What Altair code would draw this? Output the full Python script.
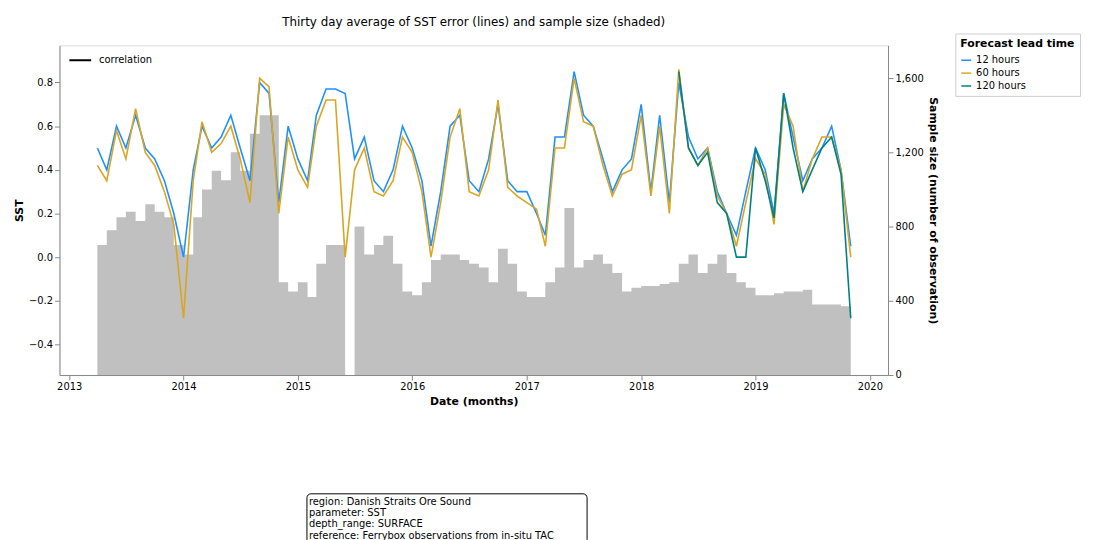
import altair as alt
import pandas as pd

months = pd.date_range("2013-04-01", "2019-11-01", freq="MS")
sst_12h = [0.5,0.4,0.6,0.5,0.65,0.5,0.45,0.35,0.2,
           0.0,0.4,0.6,0.5,0.55,0.65,0.5,0.35,0.8,0.75,0.25,0.6,
           0.45,0.35,0.65,0.77,0.77,0.75,0.45,0.55,0.35,0.3,0.4,0.6,
           0.5,0.35,0.05,0.3,0.6,0.65,0.35,0.3,0.45,0.7,0.35,0.3,
           0.3,0.2,0.1,0.55,0.55,0.85,0.65,0.6,0.45,0.3,0.4,0.45,
           0.7,0.3,0.65,0.25,0.8,0.55,0.45,0.5,0.3,0.2,0.1,0.3,
           0.5,0.4,0.2,0.75,0.55,0.35,0.45,0.5,0.6,0.4,0.05]
sst_60h = [0.42,0.35,0.58,0.45,0.68,0.48,0.42,0.3,0.15,
           -0.28,0.35,0.62,0.48,0.52,0.6,0.45,0.25,0.82,0.78,0.2,0.55,
           0.4,0.32,0.6,0.72,0.72,0.0,0.4,0.5,0.3,0.28,0.35,0.55,
           0.48,0.3,0.0,0.25,0.55,0.68,0.3,0.28,0.4,0.72,0.32,0.28,
           0.25,0.22,0.05,0.5,0.5,0.82,0.62,0.6,0.42,0.28,0.38,0.4,
           0.65,0.28,0.6,0.2,0.86,0.5,0.42,0.5,0.28,0.2,0.05,0.25,
           0.45,0.38,0.15,0.7,0.6,0.3,0.45,0.55,0.55,0.4,0.0]
months_120 = pd.date_range("2018-05-01", "2019-11-01", freq="MS")
sst_120h = [0.85,0.5,0.42,0.48,0.25,0.2,0.0,0.0,0.5,0.35,0.18,0.75,0.5,0.3,0.4,0.5,0.55,0.38,-0.28]
sample = [700,780,850,880,830,920,880,850,700,
          650,850,1000,1100,1050,1200,1100,1300,1400,1400,500,450,
          500,420,600,700,700,0,800,650,700,750,600,450,
          430,500,620,650,650,620,600,580,500,680,600,450,
          420,420,500,580,900,580,620,650,600,550,450,470,
          480,480,490,500,600,650,550,600,650,550,500,470,
          430,430,440,450,450,460,380,380,380,370,330]

rows = []
for d, v in zip(months, sst_12h):
    rows.append({"date": d, "value": v, "lead": "12 hours"})
for d, v in zip(months, sst_60h):
    rows.append({"date": d, "value": v, "lead": "60 hours"})
for d, v in zip(months_120, sst_120h):
    rows.append({"date": d, "value": v, "lead": "120 hours"})
lines_df = pd.DataFrame(rows)
n = min(len(months), len(sample))
bars_df = pd.DataFrame({"date": months[:n], "n": sample[:n]})

xscale = alt.Scale(domain=[pd.Timestamp("2012-12-01").isoformat(), pd.Timestamp("2020-02-28").isoformat()])
xenc = alt.X("date:T", scale=xscale, title="Date (months)",
             axis=alt.Axis(format="%Y", tickCount="year", grid=False))

bars = alt.Chart(bars_df).mark_area(interpolate="step-after", color="#c0c0c0").encode(
    x=xenc,
    y=alt.Y("n:Q", scale=alt.Scale(domain=[0, 1776], nice=False),
            axis=alt.Axis(orient="right", title="Sample size (number of observation)",
                          values=[0, 400, 800, 1200, 1600], grid=False)))

lines = alt.Chart(lines_df).mark_line(strokeWidth=1.6).encode(
    x=xenc,
    y=alt.Y("value:Q", scale=alt.Scale(domain=[-0.54, 0.97], nice=False),
            axis=alt.Axis(title="SST", values=[-0.4, -0.2, 0, 0.2, 0.4, 0.6, 0.8],
                          format=".1f", gridColor="#b0b0b0")),
    color=alt.Color("lead:N", title="Forecast lead time",
                    scale=alt.Scale(domain=["12 hours", "60 hours", "120 hours"],
                                    range=["#1e90ff", "#daa520", "#008080"]),
                    legend=alt.Legend(orient="none", legendX=905, legendY=-12,
                                      strokeColor="#ccc", fillColor="white", padding=5,
                                      symbolType="stroke")),
    detail="lead:N")

one = bars_df.head(1)
corr_rule = alt.Chart(one).mark_rule(color="black", strokeWidth=2).encode(
    x=alt.value(10), x2=alt.value(32), y=alt.value(15))
corr_text = alt.Chart(one).mark_text(align="left", fontSize=10).encode(
    x=alt.value(40), y=alt.value(15), text=alt.value("correlation"))

box = alt.Chart(one).mark_rect(fill="white", stroke="black", cornerRadius=4).encode(
    x=alt.value(250), x2=alt.value(533), y=alt.value(453), y2=alt.value(503))
info = alt.Chart(one).mark_text(align="left", baseline="top", fontSize=10,
                                lineHeight=11.5).encode(
    x=alt.value(252), y=alt.value(456),
    text=alt.value(["region: Danish Straits Ore Sound", "parameter: SST",
                    "depth_range: SURFACE", "reference: Ferrybox observations from in-situ TAC"]))

chart = alt.layer(bars, lines, corr_rule, corr_text, box, info).resolve_scale(y="independent").properties(
    width=837, height=333,
    title=alt.Title("Thirty day average of SST error (lines) and sample size (shaded)",
                    fontSize=12, fontWeight="normal")
).configure_axis(labelFontSize=9, titleFontSize=9, titleFontWeight="normal", domainColor="black",
                 tickColor="black", labelColor="black"
).configure_view(stroke="black").configure(font="DejaVu Sans")

chart.save("out.html", embed_options={"renderer": "svg", "actions": False})
